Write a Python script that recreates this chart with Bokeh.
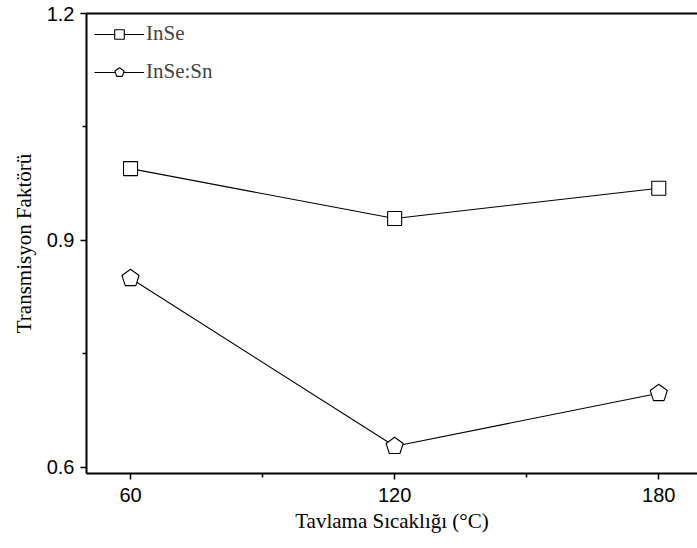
from bokeh.plotting import figure
from bokeh.models import (ColumnDataSource, FixedTicker, LinearAxis, Legend,
                          LegendItem, Range1d)
from bokeh.embed import file_html
from bokeh.resources import INLINE

# Annealing temperature (°C) and transmission factor of the two films
temperature = [60, 120, 180]
inse = [0.995, 0.929, 0.969]
inse_sn = [0.850, 0.628, 0.698]

x_major = [60, 120, 180]
x_minor = [90, 150]
y_major = [0.6, 0.9, 1.2]
y_minor = [0.75, 1.05]

serif = "Times"
sans = "Arial"

p = figure(width=697, height=548, output_backend="svg", toolbar_location=None,
           x_range=Range1d(50, 188.8), y_range=Range1d(0.592, 1.2),
           min_border_left=86, min_border_right=0, min_border_top=13,
           min_border_bottom=75)
p.grid.visible = False
p.outline_line_color = None
p.background_fill_color = "white"
p.border_fill_color = "white"

src1 = ColumnDataSource(dict(x=temperature, y=inse))
src2 = ColumnDataSource(dict(x=temperature, y=inse_sn))

l1 = p.line("x", "y", source=src1, line_color="black", line_width=1.1)
m1 = p.scatter("x", "y", source=src1, marker="square", size=14,
               fill_color="white", line_color="black", line_width=1.1)
l2 = p.line("x", "y", source=src2, line_color="black", line_width=1.1)
m2 = p.ngon("x", "y", source=src2, radius=9, radius_units="screen", n=5,
            fill_color="white", line_color="black", line_width=1.1)

for ax in (p.xaxis[0], p.yaxis[0]):
    ax.axis_line_width = 2
    ax.major_tick_line_width = 1.5
    ax.minor_tick_line_width = 1.5
    ax.major_tick_out = 6
    ax.major_tick_in = 0
    ax.minor_tick_out = 4
    ax.minor_tick_in = 0
    ax.major_label_text_font = sans
    ax.major_label_text_font_size = "20px"
    ax.major_label_text_color = "black"
    ax.axis_label_text_font = serif
    ax.axis_label_text_font_size = "21px"
    ax.axis_label_text_font_style = "normal"
    ax.axis_label_text_color = "black"

p.xaxis[0].ticker = FixedTicker(ticks=x_major, minor_ticks=x_minor)
p.yaxis[0].ticker = FixedTicker(ticks=y_major, minor_ticks=y_minor)
p.xaxis[0].axis_label = "Tavlama Sıcaklığı (°C)"
p.yaxis[0].axis_label = "Transmisyon Faktörü"
p.xaxis[0].major_label_standoff = 8
p.xaxis[0].axis_label_standoff = 4
p.yaxis[0].major_label_standoff = 6
p.yaxis[0].axis_label_standoff = 8

# plain frame line along the top edge
top = LinearAxis(axis_line_width=2, ticker=FixedTicker(ticks=[]),
                 major_tick_line_color=None, minor_tick_line_color=None)
p.add_layout(top, "above")

legend = Legend(items=[LegendItem(label="InSe", renderers=[l1, m1]),
                       LegendItem(label="InSe:Sn", renderers=[l2, m2])],
                location="top_left", border_line_color=None,
                background_fill_alpha=0, label_text_font=serif,
                label_text_font_size="21px", glyph_width=50, glyph_height=24,
                spacing=13, padding=0, margin=8, label_standoff=2)
p.add_layout(legend)

open("out.html", "w").write(file_html(p, INLINE))
